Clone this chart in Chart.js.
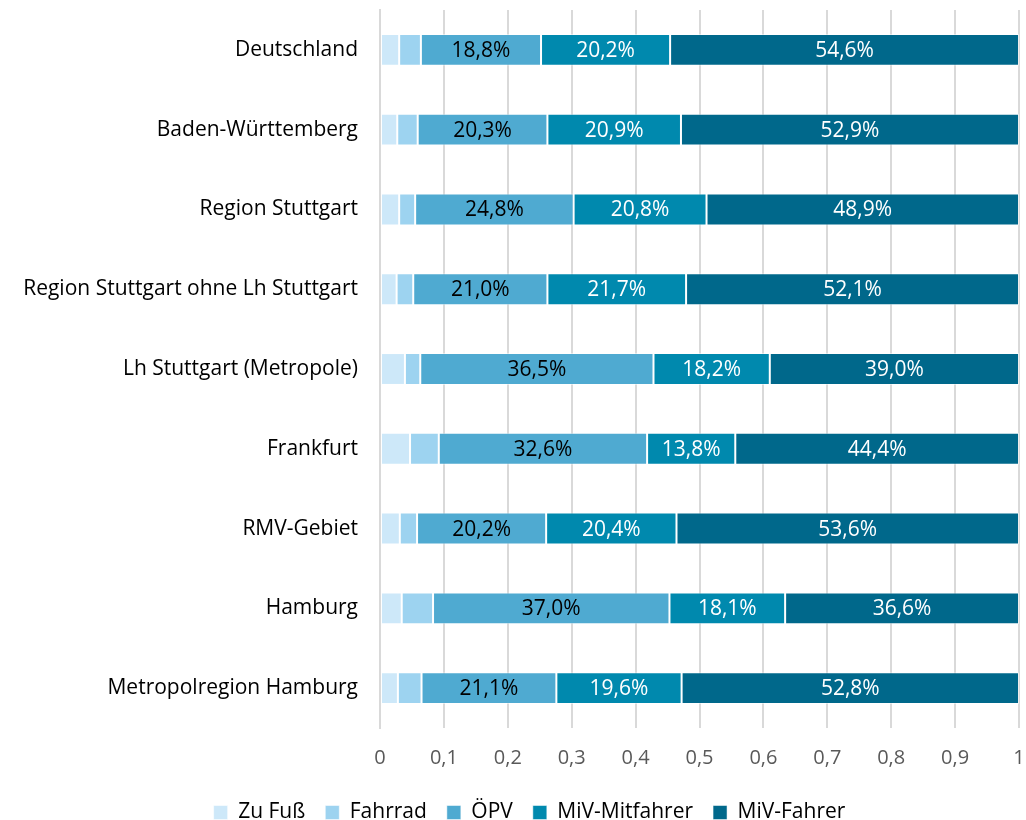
<!DOCTYPE html>
<html>
<head>
<meta charset="utf-8">
<script src="https://cdn.jsdelivr.net/npm/chart.js@4"></script>
<style>
  html, body { margin: 0; padding: 0; background: #fff; }
  #wrap { width: 1026px; height: 820px; }
</style>
</head>
<body>
<div id="wrap"><canvas id="modalSplit"></canvas></div>
<script>
const regions = [
    'Deutschland',
    'Baden-Württemberg',
    'Region Stuttgart',
    'Region Stuttgart ohne Lh Stuttgart',
    'Lh Stuttgart (Metropole)',
    'Frankfurt',
    'RMV-Gebiet',
    'Hamburg',
    'Metropolregion Hamburg'
];

const zuFuss = [0.030, 0.027, 0.030, 0.026, 0.039, 0.047, 0.031, 0.034, 0.028];
const fahrrad = [0.034, 0.032, 0.025, 0.026, 0.024, 0.045, 0.027, 0.049, 0.037];
const oepv = [0.188, 0.203, 0.248, 0.210, 0.365, 0.326, 0.202, 0.370, 0.211];
const mivMitfahrer = [0.202, 0.209, 0.208, 0.217, 0.182, 0.138, 0.204, 0.181, 0.196];
const mivFahrer = [0.546, 0.529, 0.489, 0.521, 0.390, 0.444, 0.536, 0.366, 0.528];

const xTicks = [0, 0.1, 0.2, 0.3, 0.4, 0.5, 0.6, 0.7, 0.8, 0.9, 1];

const FONT = "'Open Sans', sans-serif";

function deNumber(v) {
    return String(Math.round(v * 10) / 10).replace('.', ',');
}

// writes the percentage into the middle of each labelled segment
const segmentLabels = {
    id: 'segmentLabels',
    afterDatasetsDraw(chart) {
        const { ctx } = chart;
        ctx.save();
        ctx.font = '21px ' + FONT;
        ctx.textAlign = 'center';
        ctx.textBaseline = 'middle';
        chart.data.datasets.forEach((ds, i) => {
            if (!ds.labelColor) return;
            chart.getDatasetMeta(i).data.forEach((bar, j) => {
                const txt = (ds.data[j] * 100).toFixed(1).replace('.', ',') + '%';
                ctx.fillStyle = ds.labelColor;
                ctx.fillText(txt, (bar.x + bar.base) / 2, bar.y + 1);
            });
        });
        ctx.restore();
    }
};

// nudge the legend a bit to the right, it sits under the plot rather than the page
const legendShift = {
    id: 'legendShift',
    afterLayout(chart) {
        if (chart.legend) chart.legend.left += 40;
    }
};

function series(label, data, color, labelColor) {
    return {
        label: label,
        data: data,
        backgroundColor: color,
        borderColor: 'rgba(255,255,255,0.5)',
        borderWidth: 1,
        borderSkipped: false,
        barPercentage: 0.4,
        categoryPercentage: 1,
        labelColor: labelColor
    };
}

const modalSplitChart = {
    type: 'bar',
    data: {
        labels: regions,
        datasets: [
            series('Zu Fuß', zuFuss, '#cde8f9', null),
            series('Fahrrad', fahrrad, '#9dd3f0', null),
            series('ÖPV', oepv, '#4faad1', '#000000'),
            series('MiV-Mitfahrer', mivMitfahrer, '#0089ae', '#ffffff'),
            series('MiV-Fahrer', mivFahrer, '#00688b', '#ffffff')
        ]
    },
    options: {
        indexAxis: 'y',
        responsive: true,
        maintainAspectRatio: false,
        animation: false,
        layout: {
            padding: { top: 10, right: 7, bottom: -13, left: 0 }
        },
        scales: {
            x: {
                stacked: true,
                min: 0,
                max: 1,
                afterBuildTicks(scale) {
                    scale.ticks = xTicks.map(v => ({ value: v }));
                },
                afterFit(scale) { scale.height = 54; },
                grid: {
                    color: '#d9d9d9',
                    lineWidth: 2,
                    drawTicks: true,
                    tickLength: 18,
                    tickColor: 'transparent'
                },
                border: { display: false },
                ticks: {
                    padding: 0,
                    color: '#595959',
                    font: { family: FONT, size: 20 },
                    callback: v => deNumber(v)
                }
            },
            y: {
                stacked: true,
                afterFit(scale) {
                    scale.width = 380;
                    scale.paddingTop = 0;
                    scale.paddingBottom = 0;
                },
                grid: {
                    color: 'transparent',
                    drawTicks: true,
                    tickLength: 20,
                    tickColor: 'transparent'
                },
                border: { display: true, color: '#d9d9d9', width: 2 },
                ticks: {
                    padding: 2,
                    color: '#000000',
                    font: { family: FONT, size: 21 }
                }
            }
        },
        plugins: {
            legend: {
                position: 'bottom',
                labels: {
                    color: '#000000',
                    font: { family: FONT, size: 21 },
                    boxWidth: 14,
                    boxHeight: 14,
                    padding: 20
                }
            },
            tooltip: { enabled: false }
        }
    },
    plugins: [segmentLabels, legendShift]
};

const barChart = new Chart(document.getElementById('modalSplit'), modalSplitChart);
</script>
</body>
</html>
